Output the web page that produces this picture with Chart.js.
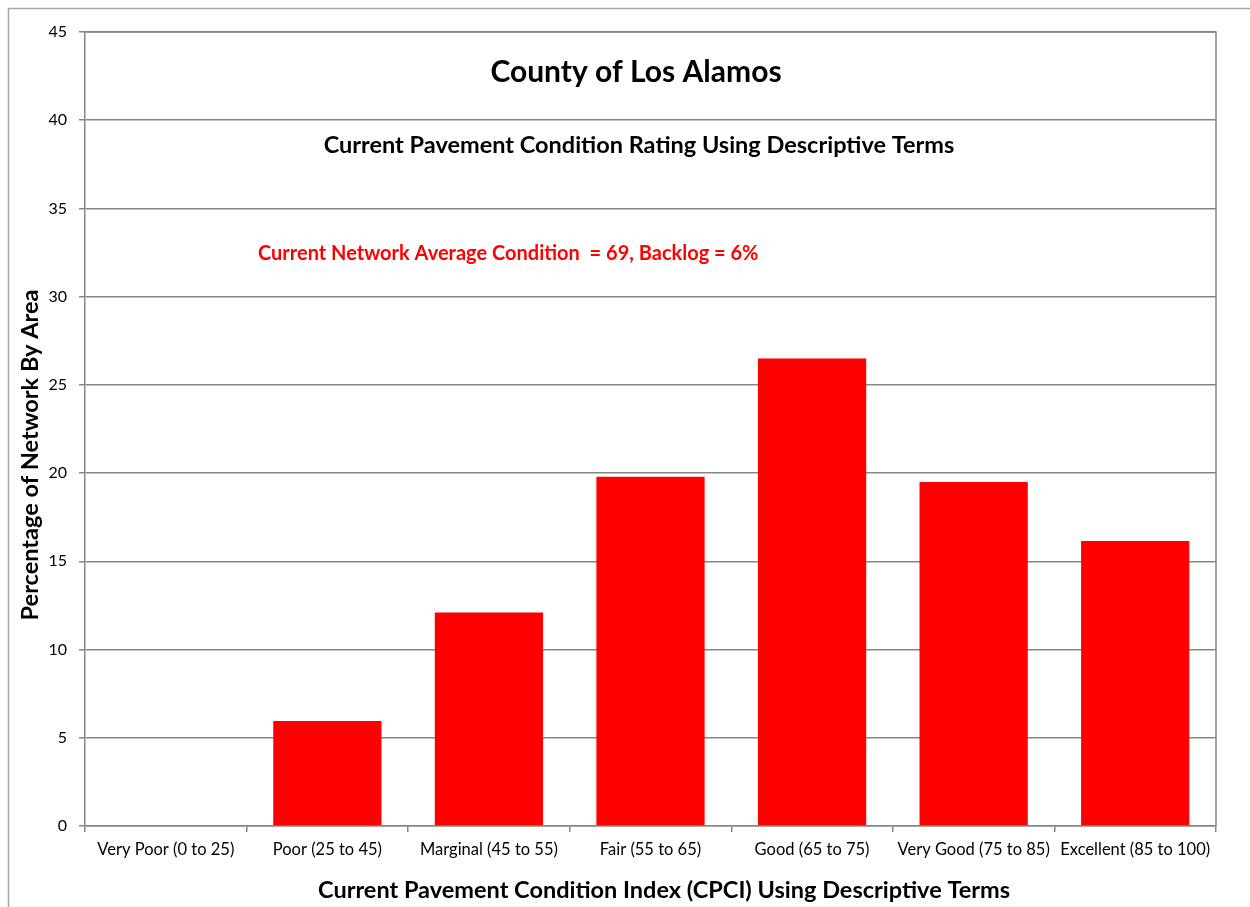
<!DOCTYPE html>
<html>
<head>
<meta charset="utf-8">
<script src="https://cdn.jsdelivr.net/npm/chart.js@4"></script>
<style>
  body { margin: 0; background: #fff; }
  #wrap { position: relative; width: 1250px; height: 907px; }
</style>
</head>
<body>
<div id="wrap"><canvas id="myChart" width="1250" height="907"></canvas></div>
<script>
const categories = ['Very Poor (0 to 25)', 'Poor (25 to 45)', 'Marginal (45 to 55)', 'Fair (55 to 65)', 'Good (65 to 75)', 'Very Good (75 to 85)', 'Excellent (85 to 100)'];
const percentByArea = [0, 5.95, 12.1, 19.8, 26.5, 19.5, 16.15];
const yTicks = [0, 5, 10, 15, 20, 25, 30, 35, 40, 45];

const FONT = 'Lato, "Open Sans", sans-serif';

// frame, plot border, titles (placed like the excel original, slightly off-centre)
const decorations = {
  id: 'decorations',
  beforeDraw(chart) {
    const c = chart.ctx;
    c.save();
    c.fillStyle = '#fff';
    c.fillRect(0, 0, chart.width, chart.height);
    c.strokeStyle = '#a6a6a6';
    c.lineWidth = 1.5;
    c.beginPath();
    c.moveTo(8.5, chart.height);
    c.lineTo(8.5, 8.5);
    c.lineTo(chart.width, 8.5);
    c.stroke();
    c.restore();
  },
  afterDatasetsDraw(chart) {
    const c = chart.ctx;
    const a = chart.chartArea;
    c.save();
    c.strokeStyle = '#868686';
    c.lineWidth = 1.5;
    c.beginPath();
    c.moveTo(a.left, a.top);
    c.lineTo(a.right, a.top);
    c.lineTo(a.right, a.bottom);
    c.stroke();

    c.textAlign = 'center';
    c.textBaseline = 'middle';
    c.fillStyle = '#000';
    c.font = 'bold 30px ' + FONT;
    c.fillText('County of Los Alamos', 636, 72);
    c.font = 'bold 23.5px ' + FONT;
    c.fillText('Current Pavement Condition Rating Using Descriptive Terms', 639, 145);
    c.fillText('Current Pavement Condition Index (CPCI) Using Descriptive Terms', 664, 890);

    c.save();
    c.translate(30, 455);
    c.rotate(-Math.PI / 2);
    c.fillText('Percentage of Network By Area', 0, 0);
    c.restore();

    c.textAlign = 'left';
    c.fillStyle = '#ff0000';
    c.font = 'bold 20px ' + FONT;
    c.fillText('Current Network Average Condition  = 69, Backlog = 6%', 258, 254);
    c.restore();
  }
};

const ctx = document.getElementById('myChart');
new Chart(ctx, {
  type: 'bar',
  data: {
    labels: categories,
    datasets: [{
      data: percentByArea,
      backgroundColor: '#ff0000',
      borderWidth: 0,
      barPercentage: 0.67,
      categoryPercentage: 1
    }]
  },
  options: {
    responsive: false,
    animation: false,
    layout: { padding: { left: 0, top: 32, right: 34, bottom: 0 } },
    plugins: {
      legend: { display: false },
      tooltip: { enabled: false }
    },
    scales: {
      y: {
        min: 0,
        max: 45,
        afterFit(scale) { scale.width = 85; },
        afterBuildTicks(scale) { scale.ticks = yTicks.map(v => ({ value: v })); },
        grid: {
          color: '#868686',
          lineWidth: 1.5,
          tickLength: 6,
          drawTicks: true
        },
        border: { color: '#868686', width: 1.5 },
        ticks: {
          color: '#000',
          padding: 12,
          font: { family: FONT, size: 16 }
        }
      },
      x: {
        afterFit(scale) { scale.height = 81; },
        grid: {
          offset: true,
          drawOnChartArea: false,
          color: '#868686',
          lineWidth: 1.5,
          tickLength: 6
        },
        border: { color: '#868686', width: 1.5 },
        ticks: {
          color: '#000',
          maxRotation: 0,
          autoSkip: false,
          padding: 8,
          font: { family: FONT, size: 16.5 }
        }
      }
    }
  },
  plugins: [decorations]
});
</script>
</body>
</html>
